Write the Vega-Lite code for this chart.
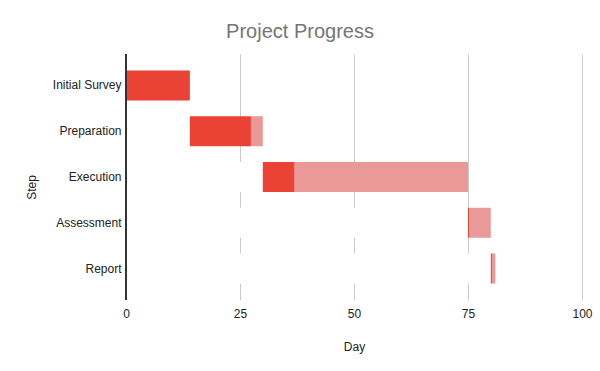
{
  "$schema": "https://vega.github.io/schema/vega-lite/v6.json",
  "autosize": {"type": "none"},
  "width": 456,
  "height": 246,
  "padding": {"left": 126, "top": 54, "right": 18, "bottom": 71},
  "background": "white",
  "title": {
    "text": "Project Progress",
    "font": "Liberation Sans",
    "fontSize": 20,
    "fontWeight": "normal",
    "color": "#757575",
    "anchor": "middle",
    "frame": "group",
    "dx": -54,
    "offset": 11
  },
  "config": {
    "view": {"stroke": null},
    "axis": {"labelFont": "Liberation Sans", "titleFont": "Liberation Sans", "labelFontSize": 12, "titleFontSize": 12, "labelColor": "#222222", "titleColor": "#222222", "titleFontWeight": "normal"}
  },
  "data": {
    "values": [
      {"step": "Initial Survey", "start": 0, "doneEnd": 14, "end": 14},
      {"step": "Preparation", "start": 14, "doneEnd": 27.4, "end": 30},
      {"step": "Execution", "start": 30, "doneEnd": 37, "end": 75},
      {"step": "Assessment", "start": 75, "doneEnd": 75.25, "end": 80},
      {"step": "Report", "start": 80, "doneEnd": 80.25, "end": 81}
    ]
  },
  "layer": [
    {
      "mark": {"type": "bar", "color": "white"},
      "encoding": {
        "y": {
          "field": "step",
          "type": "nominal",
          "sort": null,
          "title": "Step",
          "scale": {"paddingInner": 0.344, "paddingOuter": 0.36},
          "axis": {"domain": false, "ticks": false, "grid": false, "labelPadding": 5, "titlePadding": 14, "titleY": 133}
        },
        "x": {
          "field": "start",
          "type": "quantitative",
          "title": "Day",
          "scale": {"domain": [0, 100]},
          "axis": {
            "values": [0, 25, 50, 75, 100],
            "domain": false,
            "ticks": false,
            "grid": true,
            "gridColor": "#cccccc",
            "labelFlush": false,
            "labelPadding": 8,
            "titlePadding": 22
          }
        },
        "x2": {"datum": 0}
      }
    },
    {
      "mark": {"type": "bar", "color": "#EA4335"},
      "encoding": {
        "y": {"field": "step", "type": "nominal", "sort": null},
        "x": {"field": "start", "type": "quantitative"},
        "x2": {"field": "doneEnd"}
      }
    },
    {
      "mark": {"type": "bar", "color": "#EA9999"},
      "encoding": {
        "y": {"field": "step", "type": "nominal", "sort": null},
        "x": {"field": "doneEnd", "type": "quantitative"},
        "x2": {"field": "end"}
      }
    },
    {
      "mark": {"type": "rule", "color": "#333333", "strokeWidth": 1.2},
      "encoding": {
        "x": {"datum": 0, "type": "quantitative"}
      }
    }
  ]
}
